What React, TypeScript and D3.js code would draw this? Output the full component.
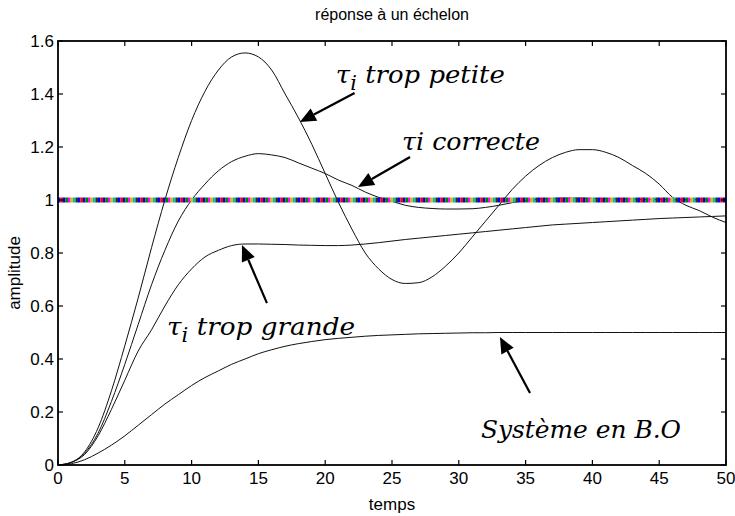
import React from 'react';
import * as d3 from 'd3';

// step response (t in s, one point per second)
const temps = [
  0, 1, 2, 3, 4, 5, 6, 7, 8, 9, 10, 11, 12, 13, 14, 15, 16, 17, 18, 19, 20,
  21, 22, 23, 24, 25, 26, 27, 28, 29, 30, 31, 32, 33, 34, 35, 36, 37, 38, 39, 40,
  41, 42, 43, 44, 45, 46, 47, 48, 49, 50,
];

const tiPetite = [
  0, 0.01, 0.05, 0.14, 0.28, 0.45, 0.63, 0.82, 1.0, 1.16, 1.3, 1.41, 1.49, 1.54, 1.555, 1.54, 1.49, 1.4, 1.31, 1.21, 1.1,
  0.99, 0.89, 0.8, 0.74, 0.7, 0.685, 0.688, 0.71, 0.75, 0.8, 0.86, 0.92, 0.98, 1.04, 1.09, 1.13, 1.16, 1.18, 1.19, 1.19,
  1.18, 1.16, 1.13, 1.1, 1.06, 1.01, 0.98, 0.96, 0.935, 0.915,
];

const tiCorrecte = [
  0, 0.01, 0.045, 0.12, 0.24, 0.38, 0.53, 0.68, 0.81, 0.92, 1.0, 1.06, 1.11, 1.145, 1.165, 1.175, 1.17, 1.16, 1.14, 1.12, 1.1,
  1.075, 1.055, 1.03, 1.01, 0.995, 0.98, 0.972, 0.968, 0.966, 0.966, 0.967, 0.972, 0.98, 0.99, 0.998, 1.003, 1.006, 1.007, 1.007, 1.006,
  1.005, 1.004, 1.003, 1.002, 1.002, 1.001, 1.001, 1.001, 1.0, 1.0,
];

const tiGrande = [
  0, 0.01, 0.04, 0.11, 0.21, 0.32, 0.43, 0.51, 0.6, 0.68, 0.74, 0.785, 0.81, 0.828, 0.834, 0.834, 0.833, 0.832, 0.83, 0.829, 0.828,
  0.828, 0.83, 0.834, 0.839, 0.845, 0.851, 0.856, 0.861, 0.866, 0.871, 0.876, 0.881, 0.886, 0.891, 0.896, 0.901, 0.906, 0.909, 0.912, 0.915,
  0.918, 0.921, 0.924, 0.927, 0.93, 0.932, 0.934, 0.936, 0.938, 0.94,
];

const boucleOuverte = [
  0, 0.005, 0.02, 0.045, 0.075, 0.11, 0.15, 0.19, 0.23, 0.265, 0.3, 0.33, 0.355, 0.38, 0.4, 0.42, 0.435, 0.448, 0.458, 0.466, 0.473,
  0.478, 0.482, 0.486, 0.489, 0.491, 0.493, 0.495, 0.496, 0.497, 0.498, 0.499, 0.499, 0.5, 0.5, 0.5, 0.5, 0.5, 0.5, 0.5, 0.5,
  0.5, 0.5, 0.5, 0.5, 0.5, 0.5, 0.5, 0.5, 0.5, 0.5,
];

const consigne = 1;

const xTicks = [0, 5, 10, 15, 20, 25, 30, 35, 40, 45, 50];
const yTicks = [0, 0.2, 0.4, 0.6, 0.8, 1, 1.2, 1.4, 1.6];

// annotations in data units: label anchor, arrow tail, arrow tip
const annotations = [
  { main: 'τ', sub: 'i', rest: ' trop petite', lx: 20.8, ly: 1.442, len: 169, from: [22.2, 1.404], to: [18.1, 1.294] },
  { main: 'τi correcte', sub: '', rest: '', lx: 25.75, ly: 1.189, len: 138, from: [26.35, 1.162], to: [22.45, 1.049] },
  { main: 'τ', sub: 'i', rest: ' trop grande', lx: 8.16, ly: 0.49, len: 188, from: [15.64, 0.611], to: [13.77, 0.83] },
  { main: 'Système en B.O', sub: '', rest: '', lx: 31.66, ly: 0.102, len: 200, from: [35.33, 0.272], to: [33.08, 0.483] },
];

// colours of the overlapping marker series drawn at the setpoint
const markerColors = ['#0000ff', '#ff0000', '#0000cc', '#008000', '#ff00ff', '#c8c800', '#00bfbf', '#303030'];

const W = 735;
const H = 516;
const margin = { top: 41, right: 9, bottom: 51, left: 58 };
const font = '"Liberation Sans Narrow", "Liberation Sans", Arial, sans-serif';
const serif = '"DejaVu Serif", "Liberation Serif", serif';

export default function App() {
  const x = d3.scaleLinear().domain([0, 50]).range([margin.left, W - margin.right]);
  const y = d3.scaleLinear().domain([0, 1.6]).range([H - margin.bottom, margin.top]);
  const line = d3.line<number>()
    .x((_d, i) => x(temps[i]))
    .y((d) => y(d))
    .curve(d3.curveMonotoneX);

  const series = [tiPetite, tiCorrecte, tiGrande, boucleOuverte];
  const x0 = x(0);
  const x1 = x(50);
  const yTop = y(1.6);
  const yBot = y(0);
  const tick = 5;

  return (
    <svg width={W} height={H} style={{ position: 'absolute', left: 0, top: 0, background: '#fff' }}>
      <rect x={0} y={0} width={W} height={H} fill="#fff" />
      <text x={(x0 + x1) / 2} y={20} textAnchor="middle" fontFamily={font} fontSize={16} fill="#000">
        réponse à un échelon
      </text>

      {/* curves */}
      {series.map((s, i) => (
        <path key={i} d={line(s) || ''} fill="none" stroke="#111" strokeWidth={1} />
      ))}

      {/* setpoint: many coloured markers overlapping */}
      {markerColors.map((c, i) => (
        <line
          key={c}
          x1={x0}
          x2={x1}
          y1={y(consigne)}
          y2={y(consigne)}
          stroke={c}
          strokeWidth={5}
          strokeDasharray={`2.5 ${2.5 * (markerColors.length - 1)}`}
          strokeDashoffset={-2.5 * i}
        />
      ))}

      {/* frame + ticks */}
      <rect x={x0} y={yTop} width={x1 - x0} height={yBot - yTop} fill="none" stroke="#000" strokeWidth={1.8} />
      {xTicks.map((t) => (
        <g key={'x' + t}>
          <line x1={x(t)} x2={x(t)} y1={yBot} y2={yBot - tick} stroke="#000" strokeWidth={1.2} />
          <line x1={x(t)} x2={x(t)} y1={yTop} y2={yTop + tick} stroke="#000" strokeWidth={1.2} />
          <text x={x(t)} y={yBot + 19} textAnchor="middle" fontFamily={font} fontSize={17} fill="#000">
            {t}
          </text>
        </g>
      ))}
      {yTicks.map((v) => (
        <g key={'y' + v}>
          <line x1={x0} x2={x0 + tick} y1={y(v)} y2={y(v)} stroke="#000" strokeWidth={1.2} />
          <line x1={x1} x2={x1 - tick} y1={y(v)} y2={y(v)} stroke="#000" strokeWidth={1.2} />
          <text x={x0 - 4} y={y(v)} dy="0.35em" textAnchor="end" fontFamily={font} fontSize={17} fill="#000">
            {v}
          </text>
        </g>
      ))}
      <text x={(x0 + x1) / 2} y={H - 6} textAnchor="middle" fontFamily={font} fontSize={17} fill="#000">
        temps
      </text>
      <text
        transform={`translate(20, ${(yTop + yBot) / 2 + 20}) rotate(-90)`}
        textAnchor="middle"
        fontFamily={font}
        fontSize={17}
        fill="#000"
      >
        amplitude
      </text>

      {/* annotations */}
      {annotations.map((a, i) => {
        const fx = x(a.from[0]);
        const fy = y(a.from[1]);
        const tx = x(a.to[0]);
        const ty = y(a.to[1]);
        const ang = Math.atan2(ty - fy, tx - fx);
        const hl = 16;
        const hw = 7;
        const bx = tx - hl * Math.cos(ang);
        const by = ty - hl * Math.sin(ang);
        const px = -Math.sin(ang) * hw;
        const py = Math.cos(ang) * hw;
        return (
          <g key={i}>
            <text
              x={x(a.lx)}
              y={y(a.ly)}
              fontFamily={serif}
              fontStyle="italic"
              fontSize={25}
              fill="#000"
              textLength={a.len}
              lengthAdjust="spacingAndGlyphs"
            >
              {a.main}
              {a.sub && (
                <tspan fontSize={20} dy={7}>
                  {a.sub}
                </tspan>
              )}
              {a.rest && <tspan dy={a.sub ? -7 : 0}>{a.rest}</tspan>}
            </text>
            <line x1={fx} y1={fy} x2={bx} y2={by} stroke="#000" strokeWidth={2.2} />
            <polygon points={`${tx},${ty} ${bx + px},${by + py} ${bx - px},${by - py}`} fill="#000" />
          </g>
        );
      })}
    </svg>
  );
}
